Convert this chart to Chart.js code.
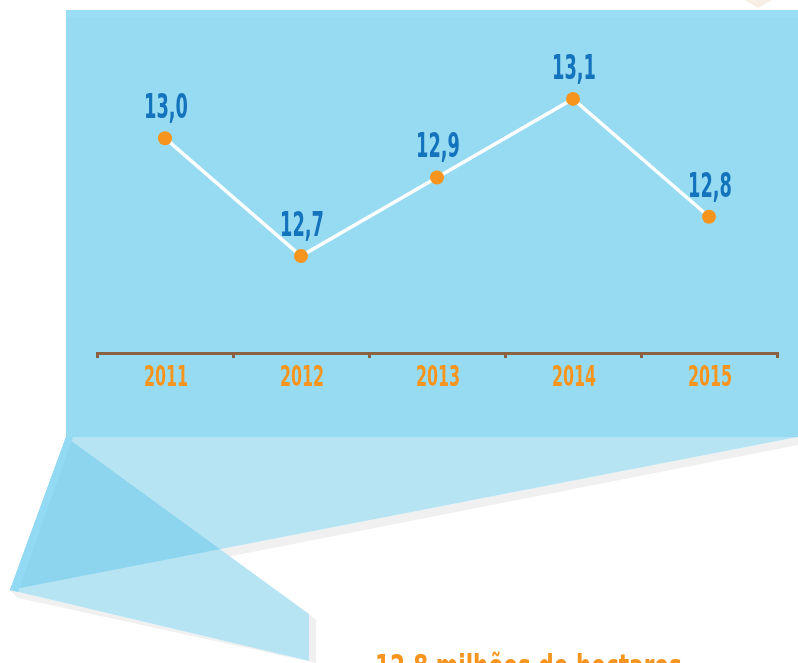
<!DOCTYPE html>
<html lang="pt">
<head>
  <meta charset="UTF-8">
  <script src="https://cdn.jsdelivr.net/npm/chart.js"></script>
  <title>Gráfico</title>
  <style>
    html, body { margin: 0; padding: 0; background: #fff; overflow: hidden; }
    canvas { display: block; }
  </style>
</head>
<body>
<canvas id="grafico" width="798" height="663"></canvas>
<script>
  var anos = ["2011", "2012", "2013", "2014", "2015"]
  var valores = [13.0, 12.7, 12.9, 13.1, 12.8]
  var rotulos = ["13,0", "12,7", "12,9", "13,1", "12,8"]
  var textoRodape = "12,8 milhões de hectares"

  var fonteCondensada = "'DejaVu Sans Condensed', 'Liberation Sans Narrow', sans-serif"

  // fundo azul e as dobras de papel embaixo
  const fundo = {
    id: "fundo",
    beforeDraw(chart) {
      const c = chart.ctx
      c.save()
      c.fillStyle = "#f7eee6"
      c.beginPath()
      c.moveTo(745, 0); c.lineTo(772, 0); c.lineTo(758, 8); c.closePath()
      c.fill()

      c.fillStyle = "#97dbf2"
      c.fillRect(66, 10, 732, 427)
      c.fillStyle = "#9adef5"
      c.fillRect(66, 10, 732, 7)

      // sombras
      c.fillStyle = "#f0f0f0"
      c.beginPath()
      c.moveTo(798, 445); c.lineTo(18, 598); c.lineTo(10, 590); c.lineTo(798, 437); c.closePath()
      c.fill()
      c.beginPath()
      c.moveTo(309, 614); c.lineTo(316, 620); c.lineTo(316, 663); c.lineTo(18, 598); c.lineTo(10, 590); c.lineTo(309, 661); c.closePath()
      c.fill()

      const dobraA = new Path2D()
      dobraA.moveTo(66, 437); dobraA.lineTo(798, 437); dobraA.lineTo(10, 590); dobraA.closePath()
      const dobraB = new Path2D()
      dobraB.moveTo(66, 437); dobraB.lineTo(309, 614); dobraB.lineTo(309, 661); dobraB.lineTo(10, 590); dobraB.closePath()

      c.fillStyle = "#b7e4f3"
      c.fill(dobraA)
      c.fill(dobraB)
      c.save()
      c.clip(dobraA)
      c.fillStyle = "#8dd5ee"
      c.fill(dobraB)
      c.restore()

      c.fillStyle = "#92daf4"
      c.beginPath()
      c.moveTo(66, 437); c.lineTo(73, 437); c.lineTo(18, 592); c.lineTo(10, 590); c.closePath()
      c.fill()

      // texto cortado no rodapé
      c.fillStyle = "#f7941d"
      c.font = "bold 32px " + fonteCondensada
      c.textBaseline = "alphabetic"
      c.translate(375, 677)
      c.scale(0.75, 1)
      c.fillText(textoRodape, 0, 0)
      c.restore()
    }
  }

  // texto estreito (fonte condensada mais apertada)
  function textoEstreito(c, txt, x, y, escala) {
    c.save()
    c.translate(x, y)
    c.scale(escala, 1)
    c.fillText(txt, 0, 0)
    c.restore()
  }

  // rótulos azuis em cima dos pontos + anos do eixo x
  const rotulosPontos = {
    id: "rotulosPontos",
    afterDatasetsDraw(chart) {
      const c = chart.ctx
      const meta = chart.getDatasetMeta(0)
      c.save()
      c.fillStyle = "#1473bd"
      c.font = "bold 33px " + fonteCondensada
      c.textAlign = "center"
      c.textBaseline = "alphabetic"
      meta.data.forEach(function (p, i) {
        textoEstreito(c, rotulos[i], p.x + 1, p.y - 20, 0.6)
      })

      const eixo = chart.scales.x
      c.fillStyle = "#f7941d"
      c.font = "bold 28px " + fonteCondensada
      anos.forEach(function (ano, i) {
        textoEstreito(c, ano, eixo.getPixelForTick(i) + 1, eixo.top + 33, 0.63)
      })
      c.restore()
    }
  }

  const ctx = document.getElementById("grafico")
  const grafico = new Chart(ctx, {
    type: "line",
    data: {
      labels: anos,
      datasets: [{
        data: valores,
        borderColor: "#ffffff",
        borderWidth: 3.5,
        pointRadius: 7,
        pointHoverRadius: 7,
        pointBackgroundColor: "#f7941d",
        pointBorderWidth: 0,
        tension: 0,
      }],
    },
    options: {
      responsive: false,
      maintainAspectRatio: false,
      animation: false,
      events: [],
      layout: { padding: { left: 97, right: 21, top: 40, bottom: 0 } },
      plugins: { legend: { display: false }, tooltip: { enabled: false } },
      scales: {
        x: {
          offset: true,
          afterFit(scale) { scale.height = 310 },
          border: { display: true, color: "#8a6240", width: 3 },
          grid: {
            offset: true,
            drawOnChartArea: false,
            drawTicks: true,
            tickLength: 5,
            color: "#8a6240",
            lineWidth: 3,
          },
          ticks: { display: false },
        },
        y: {
          display: false,
          min: 12.453,
          max: 13.25,
        },
      },
    },
    plugins: [fundo, rotulosPontos],
  })
</script>
</body>
</html>
